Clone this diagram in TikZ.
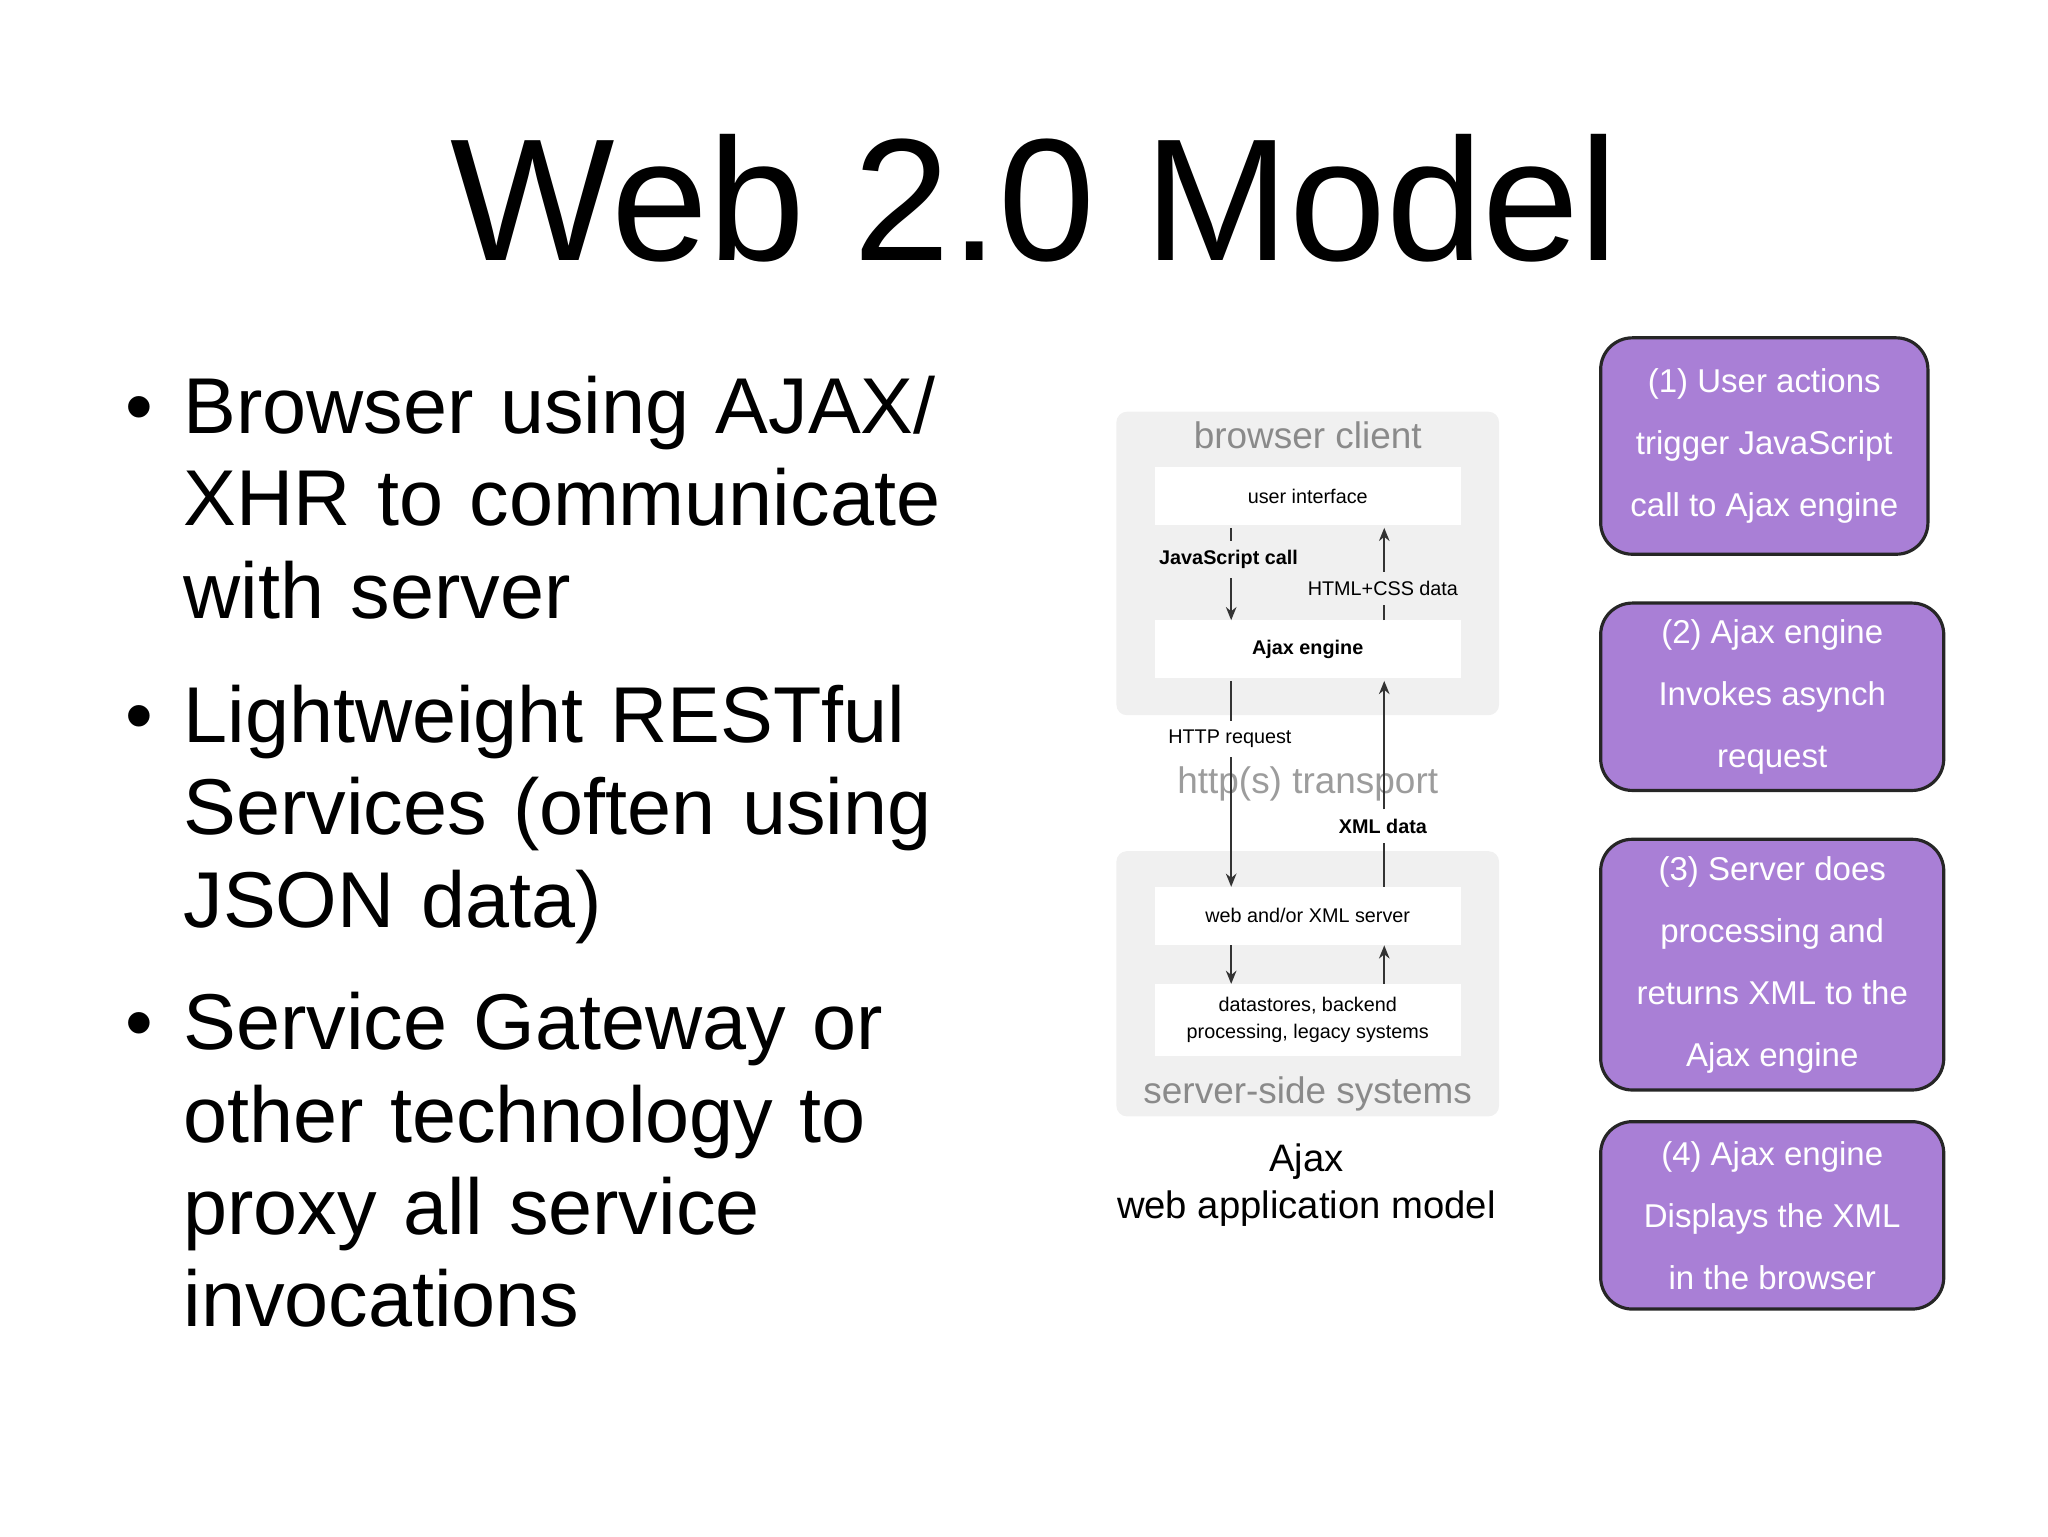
\documentclass[tikz,border=0pt]{standalone}
\usepackage{fontspec}
\setmainfont{Liberation Sans}
\usetikzlibrary{arrows.meta}
\definecolor{pur}{HTML}{A97FD6}
\definecolor{gbg}{HTML}{F0F0F0}
\definecolor{gtx}{HTML}{8A8A8A}
\begin{document}
\begin{tikzpicture}[x=0.5pt,y=-0.5pt,
 stepbox/.style={draw=black!85,line width=1.2pt,fill=pur,rounded corners=12pt,text=white,align=center,font=\fontsize{12.5}{23.5}\selectfont},
 wbox/.style={fill=white,minimum width=116pt,minimum height=22pt,font=\fontsize{7.5}{9}\selectfont,align=center},
 gbox/.style={fill=gbg,rounded corners=4pt},
 arr/.style={-{Stealth[length=5pt,width=4pt]},line width=0.7pt,black!80}]
\useasboundingbox (0,0) rectangle (1552,1164);
\node (title) at (784,150) {\fontsize{66}{70}\selectfont Web 2.0 Model};
\node[anchor=north west,align=left,text width=330pt,font=\fontsize{30}{35}\selectfont] (b1) at (88,278)
 {\makebox[22pt][l]{•}Browser using AJAX/\\\hspace*{22pt}XHR to communicate\\\hspace*{22pt}with server};
\node[anchor=north west,align=left,text width=330pt,font=\fontsize{30}{35}\selectfont] (b2) at (88,512)
 {\makebox[22pt][l]{•}Lightweight RESTful\\\hspace*{22pt}Services (often using\\\hspace*{22pt}JSON data)};
\node[anchor=north west,align=left,text width=330pt,font=\fontsize{30}{35}\selectfont] (b3) at (88,745)
 {\makebox[22pt][l]{•}Service Gateway or\\\hspace*{22pt}other technology to\\\hspace*{22pt}proxy all service\\\hspace*{22pt}invocations};
% diagram
\fill[gbox] (846,312) rectangle (1136,542);
\fill[gbox] (846,645) rectangle (1136,846);
\node[text=gtx,font=\fontsize{14}{16}\selectfont] (bc) at (991,330) {browser client};
\node[text=gtx,font=\fontsize{14}{16}\selectfont] (ss) at (991,829) {server-side systems};
\node[wbox] (ui) at (991,376) {user interface};
\node[wbox] (ae) at (991,492) {\bfseries Ajax engine};
\node[wbox] (ws) at (991,694) {web and/or XML server};
\node[wbox,minimum height=27pt,font=\fontsize{7.5}{10}\selectfont] (ds) at (991,773) {datastores, backend\\processing, legacy systems};
\node[text=gtx!85,font=\fontsize{14}{16}\selectfont] (tr) at (991,594) {http(s) transport};
\node[font=\fontsize{7.5}{9}\selectfont\bfseries] (js) at (931,424) {JavaScript call};
\node[font=\fontsize{7.5}{9}\selectfont] (hc) at (1048,446) {HTML+CSS data};
\node[font=\fontsize{7.5}{9}\selectfont] (hr) at (932,560) {HTTP request};
\node[font=\fontsize{7.5}{9}\selectfont\bfseries] (xd) at (1048,626) {XML data};
\coordinate (a1) at (933,400); \coordinate (a2) at (933,470);
\draw[line width=0.7pt,black!80] (a1) -- (js.north -| a1);
\draw[arr] (js.south -| a1) -- (a2);
\coordinate (c1) at (1049,470); \coordinate (c2) at (1049,400);
\draw[line width=0.7pt,black!80] (c1) -- (hc.south -| c1);
\draw[arr] (hc.north -| c1) -- (c2);
\coordinate (d1) at (933,516); \coordinate (d2) at (933,672);
\draw[line width=0.7pt,black!80] (d1) -- (hr.north -| d1);
\draw[arr] (hr.south -| d1) -- (d2);
\coordinate (e1) at (1049,672); \coordinate (e2) at (1049,516);
\draw[line width=0.7pt,black!80] (e1) -- (xd.south -| e1);
\draw[arr] (xd.north -| e1) -- (e2);
\draw[arr] (ws.south -| a1) -- (ds.north -| a1);
\draw[arr] (ds.north -| c1) -- (ws.south -| c1);
\node[align=center,font=\fontsize{14.5}{18}\selectfont] (cap) at (990,898) {Ajax\\web application model};
% steps
\node[stepbox,minimum width=124pt,minimum height=82pt] (s1) at (1337,338) {(1) User actions\\trigger JavaScript\\call to Ajax engine};
\node[stepbox,minimum width=130pt,minimum height=71pt] (s2) at (1343,528) {(2) Ajax engine\\Invokes asynch\\request};
\node[stepbox,minimum width=130pt,minimum height=95pt] (s3) at (1343,731) {(3) Server does\\processing and\\returns XML to the\\Ajax engine};
\node[stepbox,minimum width=130pt,minimum height=71pt] (s4) at (1343,921) {(4) Ajax engine\\Displays the XML\\in the browser};
\end{tikzpicture}
\end{document}
